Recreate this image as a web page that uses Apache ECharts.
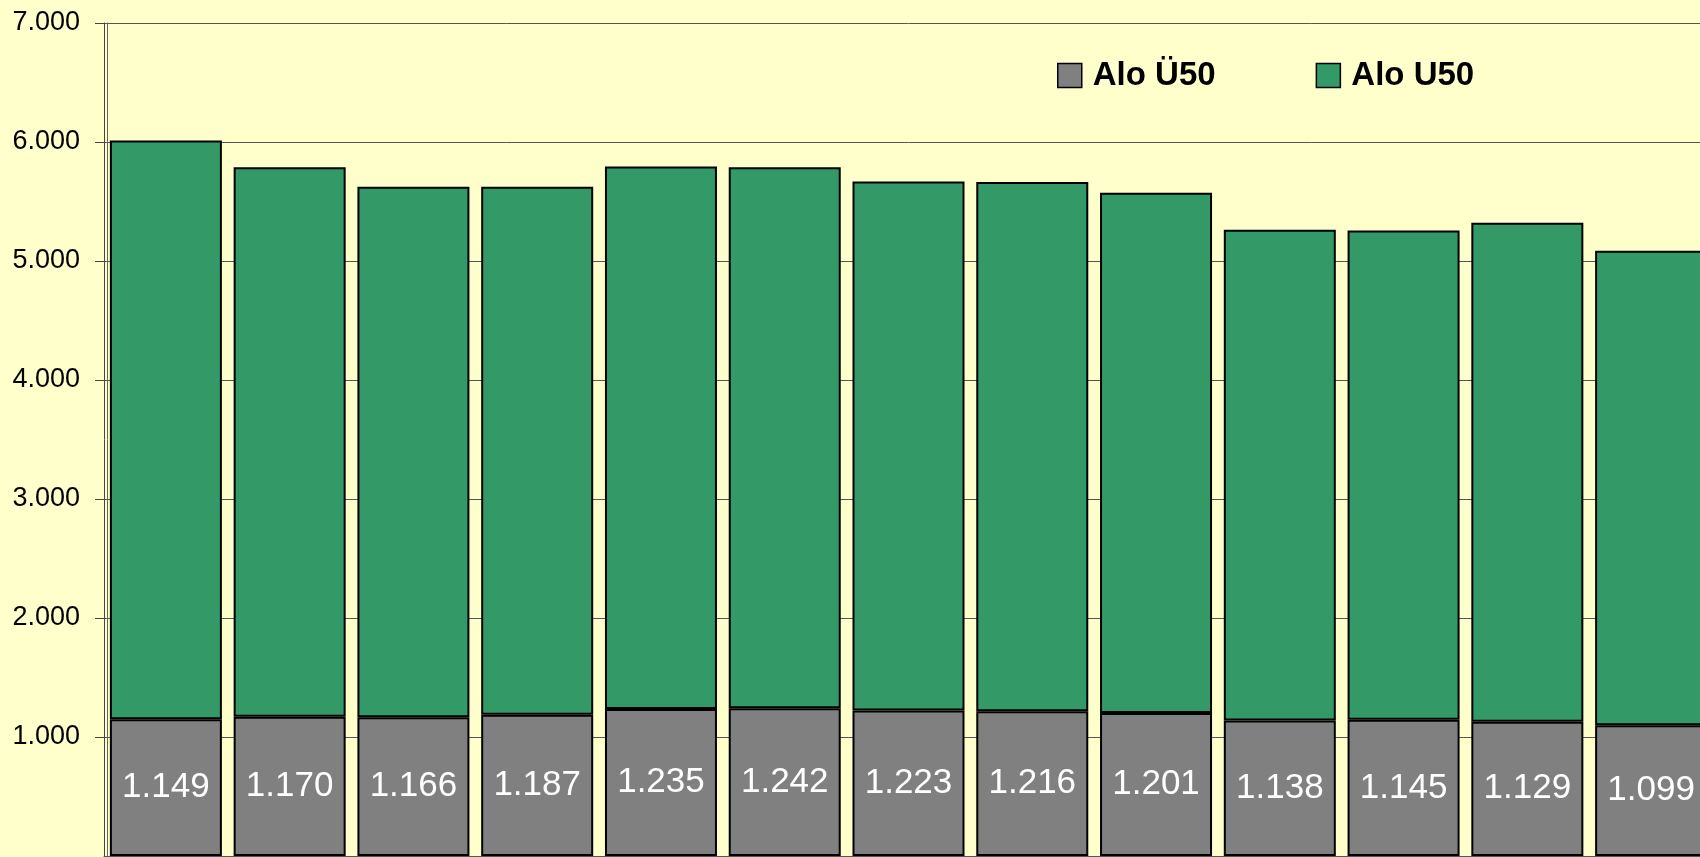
<!DOCTYPE html>
<html>
<head>
<meta charset="utf-8">
<script src="https://cdn.jsdelivr.net/npm/echarts@6/dist/echarts.min.js"></script>
<style>
html,body{margin:0;padding:0;background:#FFFFCC;overflow:hidden;}
#chart{width:1720px;height:857px;}
</style>
</head>
<body>
<div id="chart"></div>
<script>
const categories = ['1','2','3','4','5','6','7','8','9','10','11','12','13'];
const aloUe50 = [1149, 1170, 1166, 1187, 1235, 1242, 1223, 1216, 1201, 1138, 1145, 1129, 1099];
const aloU50 = [4864, 4617, 4458, 4437, 4559, 4545, 4446, 4448, 4373, 4125, 4112, 4193, 3988];
const seriesNames = ['Alo Ü50', 'Alo U50'];
const yTicks = { min: 0, max: 7000, interval: 1000 };

const fmt = v => String(v).replace(/\B(?=(\d{3})+(?!\d))/g, '.');
const FONT = 'Liberation Sans, Arial, sans-serif';

const chart = echarts.init(document.getElementById('chart'));
chart.setOption({
  backgroundColor: '#FFFFCC',
  animation: false,
  grid: { left: 104, top: 23, right: 7, bottom: 1, containLabel: false, outerBoundsMode: 'none' },
  legend: {
    left: 1057, top: 59, padding: 0, icon: 'rect',
    itemWidth: 24, itemHeight: 24, itemGap: 100,
    data: seriesNames,
    textStyle: { fontFamily: FONT, fontSize: 33, fontWeight: 'bold', color: '#000', padding: [0,0,0,6], lineHeight: 25 },
    itemStyle: { borderColor: '#000', borderWidth: 1.5 }
  },
  xAxis: {
    type: 'category', data: categories,
    axisLabel: { show: false },
    axisTick: { show: false },
    axisLine: { show: true, lineStyle: { color: '#555', width: 1 } }
  },
  yAxis: [{
    type: 'value', min: yTicks.min, max: yTicks.max, interval: yTicks.interval,
    axisLine: { show: true, lineStyle: { color: '#444', width: 1 } },
    axisTick: { show: true, length: 9, lineStyle: { color: '#444' } },
    axisLabel: { fontFamily: FONT, fontSize: 27, color: '#000', margin: 24, formatter: fmt, showMinLabel: false },
    splitLine: { show: true, lineStyle: { color: '#555', width: 1 } }
  }, {
    type: 'value', position: 'left', offset: -3, min: yTicks.min, max: yTicks.max, interval: yTicks.interval,
    axisLine: { show: true, lineStyle: { color: '#666', width: 1 } },
    axisTick: { show: false }, axisLabel: { show: false }, splitLine: { show: false }
  }],
  series: [{
    name: seriesNames[0], type: 'bar', stack: 'a', data: aloUe50,
    barWidth: 112,
    itemStyle: { color: '#808080', borderColor: '#000', borderWidth: 2 },
    label: { show: true, position: 'inside', color: '#fff', fontFamily: FONT, fontSize: 35, formatter: p => fmt(p.value) }
  }, {
    name: seriesNames[1], type: 'bar', stack: 'a', data: aloU50,
    barWidth: 112,
    itemStyle: { color: '#339966', borderColor: '#000', borderWidth: 2 }
  }]
});
</script>
</body>
</html>
